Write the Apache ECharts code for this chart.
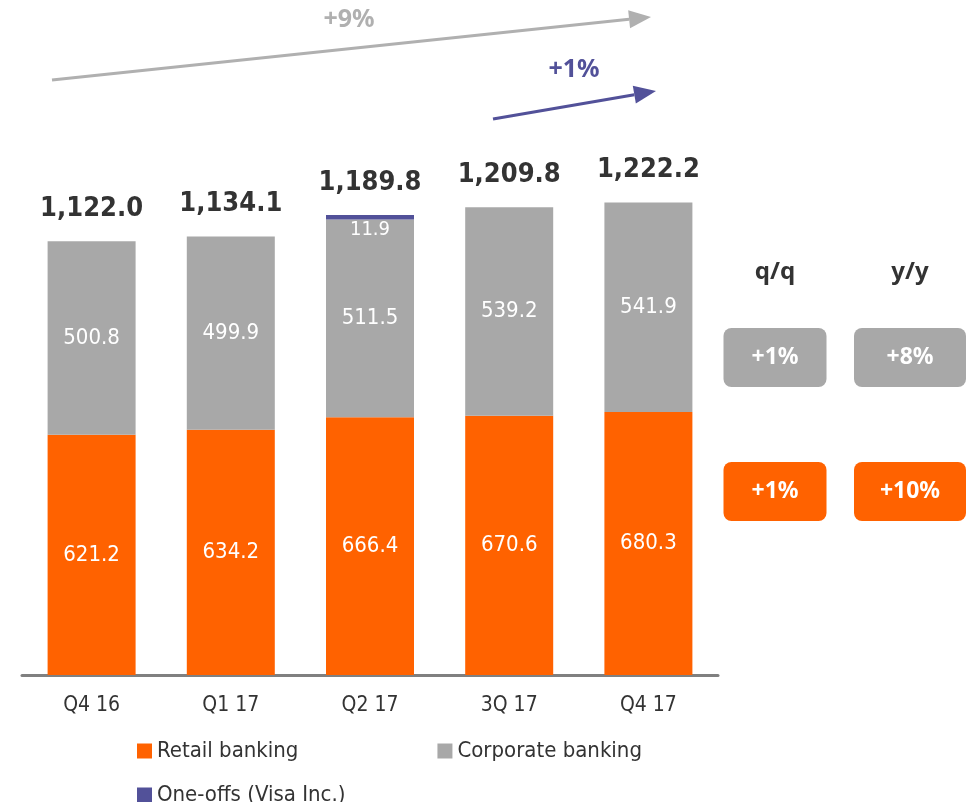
<!DOCTYPE html>
<html>
<head>
<meta charset="utf-8">
<script src="https://cdn.jsdelivr.net/npm/echarts@6/dist/echarts.min.js"></script>
<style>
html, body { margin: 0; padding: 0; background: #fff; }
#main { width: 969px; height: 802px; }
</style>
</head>
<body>
<div id="main"></div>
<script>
var categories = ['Q4 16', 'Q1 17', 'Q2 17', '3Q 17', 'Q4 17'];
var retail = [621.2, 634.2, 666.4, 670.6, 680.3];
var corporate = [500.8, 499.9, 511.5, 539.2, 541.9];
var oneOffs = ['-', '-', 11.9, '-', '-'];
var totals = [1122.0, 1134.1, 1189.8, 1209.8, 1222.2];

var changeHeads = ['q/q', 'y/y'];
var corporateChange = ['+1%', '+8%'];
var retailChange = ['+1%', '+10%'];

var ORANGE = '#FF6200';
var GREY = '#A8A8A8';
var BLUE = '#525199';
var TEXT = '#333333';
var FONT = '"Liberation Sans Narrow", "DejaVu Sans Condensed", sans-serif';
var FONT2 = '"Noto Sans", sans-serif';

function fmt(v){
	return v.toLocaleString('en-US', {minimumFractionDigits: 1, maximumFractionDigits: 1});
}

// arrow: shaft + triangular head
function arrow(x1, y1, x2, y2, color){
	var dx = x2 - x1, dy = y2 - y1;
	var len = Math.sqrt(dx * dx + dy * dy);
	var ux = dx / len, uy = dy / len;
	var hl = 22, hw = 9;
	var bx = x2 - ux * hl, by = y2 - uy * hl;
	return [
		{type: 'line', shape: {x1: x1, y1: y1, x2: bx, y2: by}, style: {stroke: color, lineWidth: 3}},
		{type: 'polygon', shape: {points: [[x2, y2], [bx - uy * hw, by + ux * hw], [bx + uy * hw, by - ux * hw]]}, style: {fill: color}}
	];
}

var graphics = [];
graphics = graphics.concat(arrow(52, 80, 651, 17, '#B0B0B0'));
graphics = graphics.concat(arrow(493, 119, 656, 91, BLUE));
graphics.push({type: 'text', x: 349, y: 20, style: {text: '+9%', fill: '#B0B0B0', font: 'bold 25px ' + FONT2, align: 'center', verticalAlign: 'middle'}});
graphics.push({type: 'text', x: 574, y: 70, style: {text: '+1%', fill: BLUE, font: 'bold 25px ' + FONT2, align: 'center', verticalAlign: 'middle'}});

var colX = [775, 910];
var boxW = [103, 112];
for (var i = 0; i < 2; i++) {
	graphics.push({type: 'text', x: colX[i], y: 272, style: {text: changeHeads[i], fill: TEXT, font: 'bold 24px ' + FONT2, align: 'center', verticalAlign: 'middle'}});
	graphics.push({type: 'rect', shape: {x: colX[i] - boxW[i] / 2, y: 328, width: boxW[i], height: 59, r: 8}, style: {fill: GREY}});
	graphics.push({type: 'text', x: colX[i], y: 357, style: {text: corporateChange[i], fill: '#fff', font: 'bold 23px ' + FONT2, align: 'center', verticalAlign: 'middle'}});
	graphics.push({type: 'rect', shape: {x: colX[i] - boxW[i] / 2, y: 462, width: boxW[i], height: 59, r: 8}, style: {fill: ORANGE}});
	graphics.push({type: 'text', x: colX[i], y: 491, style: {text: retailChange[i], fill: '#fff', font: 'bold 23px ' + FONT2, align: 'center', verticalAlign: 'middle'}});
}

var segLabel = {
	show: true,
	position: 'inside',
	color: '#fff',
	fontSize: 22,
	fontFamily: FONT,
	formatter: function(p){ return fmt(p.value); }
};

var myChart = echarts.init(document.getElementById('main'));
var option = {
	animation: false,
	backgroundColor: '#fff',
	grid: {left: 22, right: 251, top: 95, bottom: 127},
	legend: [{
		left: 132, top: 735,
		itemWidth: 15, itemHeight: 15, itemGap: 139,
		icon: 'rect',
		data: ['Retail banking', 'Corporate banking'],
		textStyle: {fontSize: 22, color: TEXT, fontFamily: FONT}
	}, {
		left: 132, top: 779,
		itemWidth: 15, itemHeight: 15,
		icon: 'rect',
		data: ['One-offs (Visa Inc.)'],
		textStyle: {fontSize: 22, color: TEXT, fontFamily: FONT}
	}],
	xAxis: {
		type: 'category',
		data: categories,
		axisLine: {lineStyle: {color: '#808080', width: 3}},
		axisTick: {show: false},
		axisLabel: {color: TEXT, fontSize: 21, fontFamily: FONT, margin: 20}
	},
	yAxis: {
		type: 'value',
		min: 0, max: 1500,
		show: false,
		splitLine: {show: false}
	},
	series: [{
		name: 'Retail banking',
		type: 'bar',
		stack: 'total',
		barWidth: 88,
		itemStyle: {color: ORANGE},
		label: segLabel,
		data: retail
	}, {
		name: 'Corporate banking',
		type: 'bar',
		stack: 'total',
		itemStyle: {color: GREY},
		label: segLabel,
		data: corporate
	}, {
		name: 'One-offs (Visa Inc.)',
		type: 'bar',
		stack: 'total',
		itemStyle: {color: BLUE},
		label: {
			show: true,
			position: 'bottom',
			distance: 0,
			color: '#fff',
			fontSize: 20,
			fontFamily: FONT,
			formatter: function(p){ return fmt(p.value); }
		},
		data: oneOffs
	}, {
		name: 'Total',
		type: 'line',
		symbol: 'circle',
		symbolSize: 1,
		itemStyle: {color: 'rgba(0,0,0,0)'},
		lineStyle: {opacity: 0},
		label: {
			show: true,
			position: 'top',
			distance: 18,
			color: TEXT,
			fontSize: 27,
			fontWeight: 'bold',
			fontFamily: FONT,
			formatter: function(p){ return fmt(p.value); }
		},
		data: totals
	}],
	graphic: graphics
};
myChart.setOption(option);
</script>
</body>
</html>
